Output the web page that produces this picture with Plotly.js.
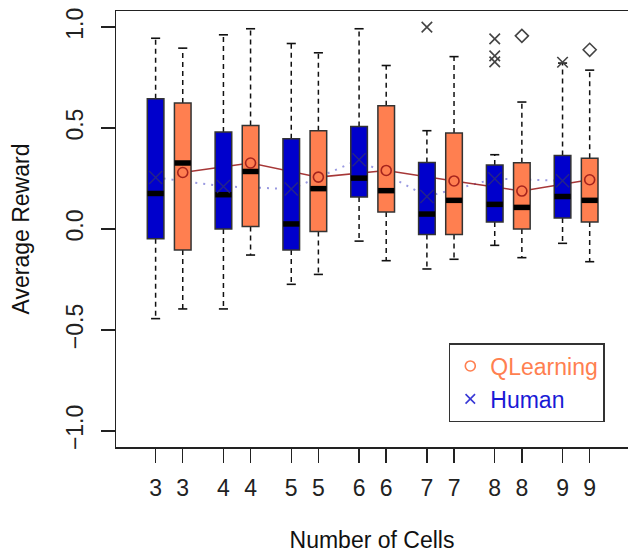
<!DOCTYPE html>
<html>
<head>
<meta charset="utf-8">
<script src="https://cdn.plot.ly/plotly-3.0.1.min.js"></script>
<style>html,body{margin:0;padding:0;background:#fff;}</style>
</head>
<body>
<div id="chart" style="width:628px;height:553px;"></div>
<script>
// ---- data ----
const cells = [3, 4, 5, 6, 7, 8, 9];

const humanUpper = [0.945, 0.962, 0.919, 0.992, 0.487, 0.368, 0.822];
const humanQ3    = [0.645, 0.480, 0.447, 0.508, 0.330, 0.317, 0.364];
const humanMed   = [0.176, 0.170, 0.025, 0.252, 0.074, 0.122, 0.161];
const humanQ1    = [-0.048, 0.000, -0.104, 0.158, -0.027, 0.035, 0.054];
const humanLower = [-0.444, -0.396, -0.274, -0.060, -0.198, -0.081, -0.071];
const humanMean  = [0.255, 0.211, 0.198, 0.343, 0.161, 0.249, 0.239];
const humanOutCells = [7, 8, 8, 8, 9];
const humanOutVals  = [1.000, 0.942, 0.858, 0.828, 0.826];

const qlUpper = [0.896, 0.992, 0.873, 0.810, 0.854, 0.629, 0.787];
const qlQ3    = [0.624, 0.513, 0.487, 0.610, 0.475, 0.328, 0.350];
const qlMed   = [0.327, 0.285, 0.200, 0.190, 0.142, 0.107, 0.142];
const qlQ1    = [-0.104, 0.013, -0.012, 0.084, -0.027, 0.000, 0.035];
const qlLower = [-0.396, -0.129, -0.225, -0.157, -0.150, -0.142, -0.162];
const qlMean  = [0.280, 0.327, 0.257, 0.290, 0.238, 0.188, 0.244];
const qlOutCells = [8, 9];
const qlOutVals  = [0.957, 0.888];

const yTicks = [-1, -0.5, 0, 0.5, 1];

// ---- layout constants ----
const QL_OFFSET = 0.4;
const BOX_W = 0.245;
const HUMAN_FILL = '#0000CC';
const QL_FILL = '#FF7F50';
const EDGE = '#333333';
const FONT = 'Liberation Sans, Arial, Helvetica, sans-serif';
const OUT_COL = '#444444';
const HMEAN_COL = 'rgba(45,45,120,0.8)';
const QMEAN_COL = 'rgba(150,20,20,0.85)';

const hx = cells.slice();
const qx = cells.map(c => c + QL_OFFSET);
const tickPos = [], tickTxt = [];
cells.forEach((c, i) => { tickPos.push(hx[i], qx[i]); tickTxt.push(String(c), String(c)); });

function whiskerSegs(xs, lo, q1, q3, hi) {
  const X = [], Y = [];
  xs.forEach((x, i) => {
    X.push(x, x, null, x, x, null);
    Y.push(q3[i], hi[i], null, q1[i], lo[i], null);
  });
  return {x: X, y: Y};
}
const hw = whiskerSegs(hx, humanLower, humanQ1, humanQ3, humanUpper);
const qw = whiskerSegs(qx, qlLower, qlQ1, qlQ3, qlUpper);

const traces = [
  // legend-only entries
  {type: 'scatter', mode: 'markers', x: [null], y: [null], name: '<span style="color:#FF7F50">QLearning</span>',
   marker: {symbol: 'circle-open', size: 10, color: '#FF7F50', line: {width: 1.6, color: '#FF7F50'}}, hoverinfo: 'skip'},
  {type: 'scatter', mode: 'markers', x: [null], y: [null], name: '<span style="color:#1a1ad6">Human</span>',
   marker: {symbol: 'x-thin-open', size: 9.5, color: '#3a3ad6', line: {width: 1.6, color: '#3a3ad6'}}, hoverinfo: 'skip'},

  // mean lines (under the boxes)
  {type: 'scatter', mode: 'lines', x: hx, y: humanMean, showlegend: false,
   line: {color: 'rgba(120,120,215,0.75)', width: 2, dash: '2px,6px'}},
  {type: 'scatter', mode: 'lines', x: qx, y: qlMean, showlegend: false,
   line: {color: QMEAN_COL, width: 1.5}},

  // whiskers (dashed) and caps
  {type: 'scatter', mode: 'lines', x: hw.x, y: hw.y, showlegend: false, connectgaps: false,
   line: {color: '#111', width: 1.5, dash: '5px,4px'}},
  {type: 'scatter', mode: 'lines', x: qw.x, y: qw.y, showlegend: false, connectgaps: false,
   line: {color: '#111', width: 1.5, dash: '5px,4px'}},
  {type: 'scatter', mode: 'markers', x: hx.concat(hx), y: humanUpper.concat(humanLower), showlegend: false,
   marker: {symbol: 'line-ew', size: 6.5, color: '#111', line: {width: 1.6, color: '#111'}}},
  {type: 'scatter', mode: 'markers', x: qx.concat(qx), y: qlUpper.concat(qlLower), showlegend: false,
   marker: {symbol: 'line-ew', size: 6.5, color: '#111', line: {width: 1.6, color: '#111'}}},

  // boxes (overlay subplot, above the lines)
  {type: 'box', xaxis: 'x2', yaxis: 'y2', x: hx, q1: humanQ1, median: humanMed, q3: humanQ3,
   lowerfence: humanQ1, upperfence: humanQ3, width: BOX_W, whiskerwidth: 0,
   fillcolor: HUMAN_FILL, line: {color: EDGE, width: 1.5}, showlegend: false, boxpoints: false},
  {type: 'box', xaxis: 'x2', yaxis: 'y2', x: qx, q1: qlQ1, median: qlMed, q3: qlQ3,
   lowerfence: qlQ1, upperfence: qlQ3, width: BOX_W, whiskerwidth: 0,
   fillcolor: QL_FILL, line: {color: EDGE, width: 1.5}, showlegend: false, boxpoints: false},

  // thick medians
  {type: 'scatter', mode: 'markers', xaxis: 'x2', yaxis: 'y2', x: hx.concat(qx), y: humanMed.concat(qlMed), showlegend: false,
   marker: {symbol: 'line-ew', size: 11.6, color: '#000', line: {width: 5.5, color: '#000'}}},

  // means
  {type: 'scatter', mode: 'markers', xaxis: 'x2', yaxis: 'y2', x: hx, y: humanMean, showlegend: false,
   marker: {symbol: 'x-thin-open', size: 13, color: HMEAN_COL, line: {width: 1.4, color: HMEAN_COL}}},
  {type: 'scatter', mode: 'markers', xaxis: 'x2', yaxis: 'y2', x: qx, y: qlMean, showlegend: false,
   marker: {symbol: 'circle-open', size: 10, color: QMEAN_COL, line: {width: 1.6, color: QMEAN_COL}}},

  // outliers
  {type: 'scatter', mode: 'markers', xaxis: 'x2', yaxis: 'y2', x: humanOutCells, y: humanOutVals, showlegend: false,
   marker: {symbol: 'x-thin-open', size: 10.5, color: OUT_COL, line: {width: 1.6, color: OUT_COL}}},
  {type: 'scatter', mode: 'markers', xaxis: 'x2', yaxis: 'y2', x: qlOutCells.map(c => c + QL_OFFSET), y: qlOutVals, showlegend: false,
   marker: {symbol: 'diamond-open', size: 10, color: OUT_COL, line: {width: 1.6, color: OUT_COL}}}
];

const XR = [2.416, 9.965];
const YR = [-1.08, 1.08];

const layout = {
  width: 628, height: 553,
  margin: {l: 116, r: 0, t: 11, b: 106, pad: 0},
  paper_bgcolor: '#fff', plot_bgcolor: '#fff',
  font: {family: FONT, size: 22, color: '#222'},
  showlegend: true,
  xaxis: {
    range: XR, tickmode: 'array', tickvals: tickPos, ticktext: tickTxt,
    ticks: 'outside', ticklen: 14, tickwidth: 1.5, tickcolor: '#222',
    showline: true, mirror: true, linecolor: '#222', linewidth: 1.5,
    showgrid: false, zeroline: false, ticklabelstandoff: 6,
    tickfont: {size: 23, color: '#222'},
    title: {text: 'Number of Cells', font: {size: 23, color: '#111'}, standoff: 47}
  },
  yaxis: {
    range: YR, tickmode: 'array', tickvals: yTicks, tickformat: '.1f',
    ticks: 'outside', ticklen: 14, tickwidth: 1.5, tickcolor: '#222', tickangle: -90,
    showline: true, mirror: false, linecolor: '#222', linewidth: 1.5,
    showgrid: false, zeroline: false, ticklabelstandoff: 8,
    tickfont: {size: 23, color: '#222'},
    title: {text: 'Average Reward', font: {size: 23, color: '#111'}, standoff: 26}
  },
  xaxis2: {overlaying: 'x', anchor: 'y2', range: XR, visible: false, showgrid: false, zeroline: false},
  yaxis2: {overlaying: 'y', anchor: 'x2', range: YR, visible: false, showgrid: false, zeroline: false},
  legend: {
    x: 0.65, y: 0.2385, xanchor: 'left', yanchor: 'top',
    bordercolor: '#333', borderwidth: 1.5, bgcolor: '#fff',
    font: {family: FONT, size: 23}, itemwidth: 30
  }
};

Plotly.newPlot('chart', traces, layout, {staticPlot: true, displayModeBar: false});
</script>
</body>
</html>
